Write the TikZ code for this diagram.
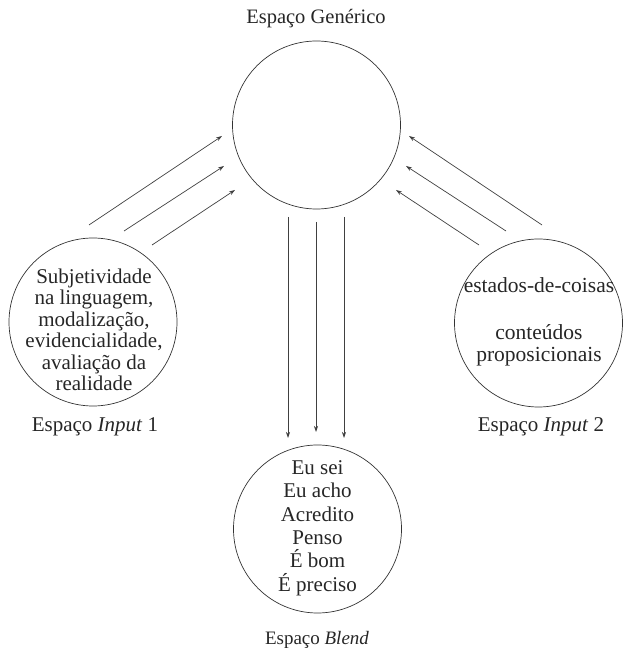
\documentclass[tikz,border=0pt]{standalone}
\usepackage{fontspec}
\setmainfont{Liberation Serif}
\usetikzlibrary{arrows.meta}
\begin{document}
\begin{tikzpicture}[x=1pt,y=1pt,
  space/.style={circle,draw=black!80,line width=0.7pt,minimum size=168pt,inner sep=0pt},
  inner/.style={align=center,inner sep=0pt,text=black!85},
  caption/.style={inner sep=0pt,text=black!85},
  link/.style={draw=black!75,line width=0.7pt,-{Stealth[length=6pt,width=4pt]}}]
\useasboundingbox (0,0) rectangle (622,648);

% the four mental spaces
\node[space] (gen) at (316.5,523) {};
\node[space] (in1) at (93,326) {};
\node[space] (in2) at (538.5,325) {};
\node[space] (blend) at (317.5,119) {};

% space contents
\node[inner,font=\fontsize{21}{21.5}\selectfont] (t1) at (94,318)
  {Subjetividade\\na linguagem,\\modalização,\\evidencialidade,\\avaliação da\\realidade};
\node[inner,font=\fontsize{21.5}{21.7}\selectfont] (t2) at (539,326)
  {estados-de-coisas\\[25pt]conteúdos\\proposicionais};
\node[inner,font=\fontsize{21}{23.4}\selectfont] (tb) at (317.5,120)
  {Eu sei\\Eu acho\\Acredito\\Penso\\É bom\\É preciso};

% space names
\node[caption,font=\fontsize{20.5}{22}\selectfont] (lgen) at (316,629) {Espaço Genérico};
\node[caption,font=\fontsize{21}{22}\selectfont] (lin1) at (95,221) {Espaço \textit{Input} 1};
\node[caption,font=\fontsize{21}{22}\selectfont] (lin2) at (541,221) {Espaço \textit{Input} 2};
\node[caption,font=\fontsize{19}{22}\selectfont] (lblend) at (317,8) {Espaço \textit{Blend}};

% arrow end points
\coordinate (a1s) at (89,423);  \coordinate (a1e) at (222,512);
\coordinate (a2s) at (124,417); \coordinate (a2e) at (224,482);
\coordinate (a3s) at (152,403); \coordinate (a3e) at (235,458);
\coordinate (b1s) at (542,423); \coordinate (b1e) at (409,512);
\coordinate (b2s) at (506,417); \coordinate (b2e) at (406,482);
\coordinate (b3s) at (479,403); \coordinate (b3e) at (396,458);
\coordinate (v1s) at (288,431); \coordinate (v1e) at (288,210);
\coordinate (v2s) at (316,426); \coordinate (v2e) at (316,216);
\coordinate (v3s) at (344,431); \coordinate (v3e) at (344,210);

% projections
\draw[link] (a1s) -- (a1e);
\draw[link] (a2s) -- (a2e);
\draw[link] (a3s) -- (a3e);
\draw[link] (b1s) -- (b1e);
\draw[link] (b2s) -- (b2e);
\draw[link] (b3s) -- (b3e);
\draw[link] (v1s) -- (v1e);
\draw[link] (v2s) -- (v2e);
\draw[link] (v3s) -- (v3e);
\end{tikzpicture}
\end{document}
